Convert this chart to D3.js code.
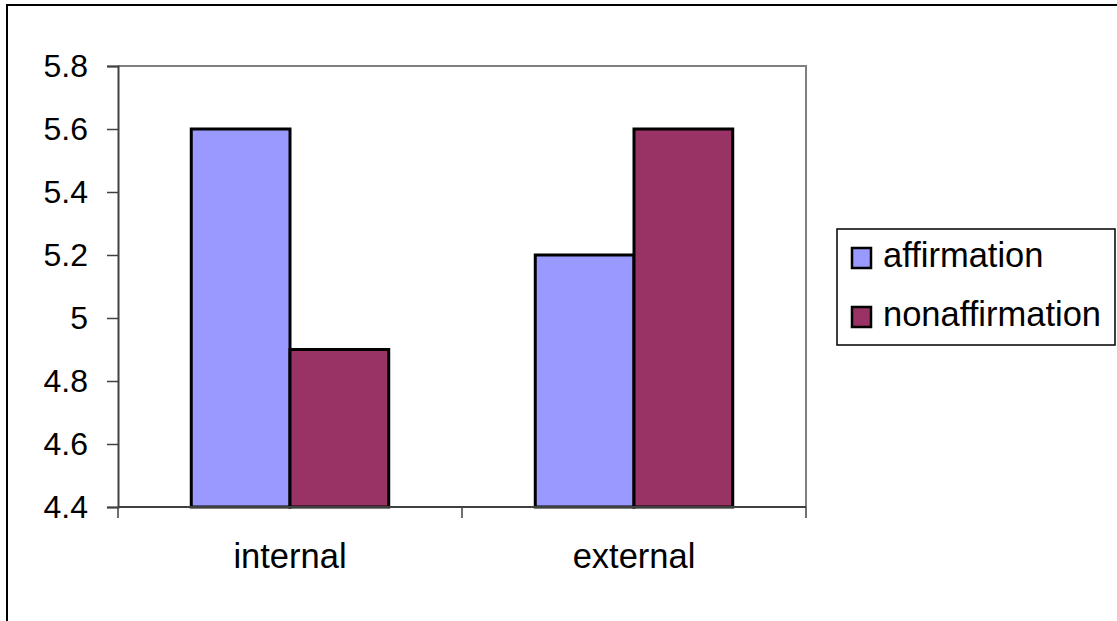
<!DOCTYPE html>
<html><head><meta charset="utf-8">
<script src="https://cdn.jsdelivr.net/npm/d3@7"></script>
<style>body{margin:0;background:#fff}svg{display:block}text{font-family:"Liberation Sans",Arial,sans-serif;fill:#000}</style>
</head><body><svg id="c" width="1117" height="621"></svg>
<script>
const categories = ["internal", "external"];
const seriesNames = ["affirmation", "nonaffirmation"];
const affirmation = [5.6, 5.2];
const nonaffirmation = [4.9, 5.6];
const yTicks = [4.4, 4.6, 4.8, 5.0, 5.2, 5.4, 5.6, 5.8];
const colors = ["#9999FF", "#993366"];

const svg = d3.select("#c");
const L = 118, R = 806, T = 66, B = 507;
svg.append("rect").attr("x", 7).attr("y", 5).attr("width", 1120).attr("height", 630)
  .attr("fill", "#fff").attr("stroke", "#000").attr("stroke-width", 2);

const y = d3.scaleLinear().domain([4.4, 5.8]).range([B, T]);
const x0 = d3.scaleBand().domain(categories).range([L, R]);
const bw = x0.bandwidth();
const grp = bw * 0.574;
const x1 = d3.scaleBand().domain(seriesNames).range([(bw - grp) / 2, (bw + grp) / 2]);

svg.append("path").attr("d", `M${L},${T}H${R}V${B}`).attr("fill", "none")
  .attr("stroke", "#808080").attr("stroke-width", 2);

const data = categories.map((c, i) => ({ c, vals: [affirmation[i], nonaffirmation[i]] }));
const g = svg.append("g");
data.forEach(d => {
  d.vals.forEach((v, j) => {
    g.append("rect")
      .attr("x", x0(d.c) + x1(seriesNames[j]))
      .attr("y", y(v))
      .attr("width", x1.bandwidth())
      .attr("height", y(4.4) - y(v))
      .attr("fill", colors[j]).attr("stroke", "#000").attr("stroke-width", 3);
  });
});

const yAxis = d3.axisLeft(y).tickValues(yTicks).tickSize(11).tickPadding(19)
  .tickFormat(d => d3.format("")(+d.toFixed(1)));
const ya = svg.append("g").attr("transform", `translate(${L},0)`).call(yAxis);
ya.select(".domain").attr("stroke", "#404040").attr("stroke-width", 2);
ya.selectAll(".tick line").attr("stroke", "#404040").attr("stroke-width", 1.5);
ya.selectAll(".tick text").style("font-size", "32px").attr("dy", "0.34em");

const xa = svg.append("g").attr("transform", `translate(0,${B})`);
xa.append("line").attr("x1", L).attr("x2", R).attr("stroke", "#404040").attr("stroke-width", 2);
const xTickPos = [L, ...categories.map(c => x0(c) + bw)];
xa.selectAll("line.tk").data(xTickPos).join("line").attr("class", "tk")
  .attr("x1", d => d).attr("x2", d => d).attr("y1", 0).attr("y2", 11)
  .attr("stroke", "#404040").attr("stroke-width", 1.5);
xa.selectAll("text").data(categories).join("text")
  .attr("x", d => x0(d) + bw / 2).attr("y", 61).attr("text-anchor", "middle")
  .style("font-size", "34.5px").text(d => d);

const lg = svg.append("g");
lg.append("rect").attr("x", 837).attr("y", 229).attr("width", 278).attr("height", 116)
  .attr("fill", "#fff").attr("stroke", "#000").attr("stroke-width", 1.5);
seriesNames.forEach((s, i) => {
  const yy = 248 + i * 59;
  lg.append("rect").attr("x", 852).attr("y", yy).attr("width", 19).attr("height", 20)
    .attr("fill", colors[i]).attr("stroke", "#000").attr("stroke-width", 2.5);
  lg.append("text").attr("x", 883).attr("y", yy + 19).style("font-size", "34.5px").text(s);
});
</script></body></html>
